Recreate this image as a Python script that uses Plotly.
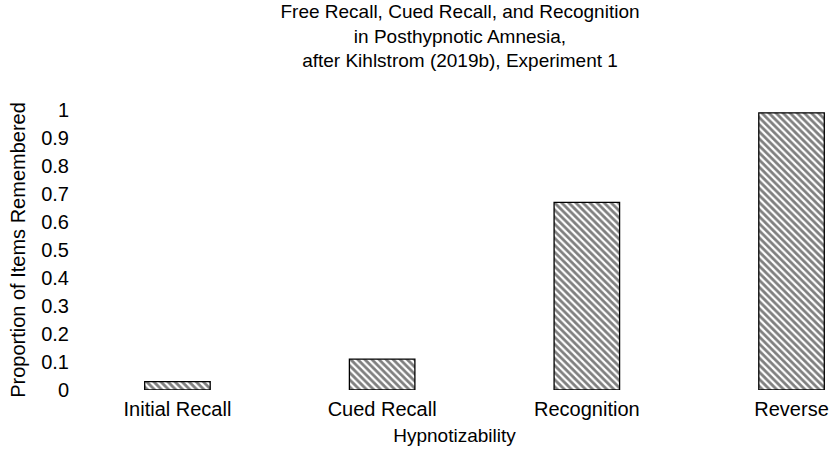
import plotly.graph_objects as go

categories = ["Initial Recall", "Cued Recall", "Recognition", "Reverse"]
values = [0.03, 0.11, 0.67, 0.99]
y_ticks = [0, 0.1, 0.2, 0.3, 0.4, 0.5, 0.6, 0.7, 0.8, 0.9, 1]
y_tick_labels = ["0", "0.1", "0.2", "0.3", "0.4", "0.5", "0.6", "0.7", "0.8", "0.9", "1"]

title_text = ("Free Recall, Cued Recall, and Recognition<br>"
              "in Posthypnotic Amnesia,<br>"
              "after Kihlstrom (2019b), Experiment 1")

FONT = "Liberation Sans, Arial, Helvetica, sans-serif"

fig = go.Figure()
fig.add_trace(go.Bar(
    x=list(range(len(categories))),
    y=values,
    width=0.32,
    marker=dict(
        color="white",
        line=dict(color="black", width=1.3),
        pattern=dict(shape="\\", fgcolor="black", bgcolor="white",
                     size=5, solidity=0.55, fillmode="overlay"),
    ),
    hoverinfo="skip",
))

fig.update_layout(
    width=831, height=450,
    margin=dict(l=80, r=2, t=110, b=60),
    paper_bgcolor="white", plot_bgcolor="white",
    font=dict(family=FONT, size=20, color="black"),
    showlegend=False,
    title=dict(text=title_text, x=460/831, xref="container", xanchor="center",
               y=1 - 18/450, yref="container", yanchor="middle",
               font=dict(family=FONT, size=19, color="black")),
    xaxis=dict(
        tickmode="array", tickvals=list(range(len(categories))), ticktext=categories,
        range=[-0.476, 3.183], showgrid=False, zeroline=False, showline=False,
        ticks="", ticklabelstandoff=5, tickfont=dict(size=20),
        title=dict(text="Hypnotizability", standoff=9, font=dict(size=19)),
        automargin=False,
    ),
    yaxis=dict(
        tickmode="array", tickvals=y_ticks, ticktext=y_tick_labels,
        range=[0, 1], showgrid=False, zeroline=False, showline=False,
        ticks="", ticklabelstandoff=10, tickfont=dict(size=20),
        title=dict(text="Proportion of Items Remembered", standoff=10, font=dict(size=20)),
        automargin=False,
    ),
)

fig.write_html("out.html", config={"displayModeBar": False},
               post_script="document.body.style.margin='0';document.body.style.padding='0';")
